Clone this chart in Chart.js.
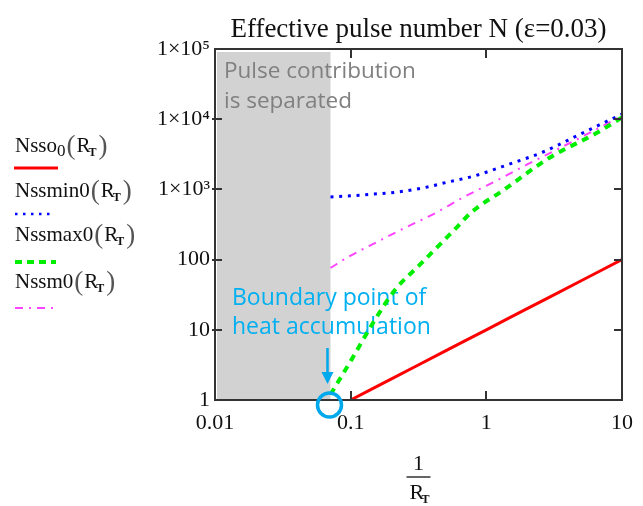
<!DOCTYPE html>
<html>
<head>
<meta charset="utf-8">
<script src="https://cdn.jsdelivr.net/npm/chart.js@4"></script>
<style>
  body { margin: 0; background: #fff; }
  #wrap { width: 643px; height: 506px; position: relative; }
</style>
</head>
<body>
<div id="wrap"><canvas id="pulseChart"></canvas></div>
<script>
// axis ticks
const xTicks = [0.01, 0.1, 1, 10];
const xTickLabels = ['0.01', '0.1', '1', '10'];
const yTicks = [1, 10, 100, 1000, 10000, 100000];
const yTickLabels = ['1', '10', '100', '1×10³', '1×10⁴', '1×10⁵'];

// 1/R_T values and N
const xSso = [0.1, 0.15, 0.2, 0.3, 0.5, 0.7, 1, 1.5, 2, 3, 5, 7, 10];
const nsso0 = [1, 1.5, 2, 3, 5, 7, 10, 15, 20, 30, 50, 70, 100];

const xMin = [0.071, 0.1, 0.15, 0.222, 0.35, 0.5, 0.81, 1.48, 2.62, 4.79, 7.28, 10];
const nssmin0 = [780, 810, 860, 918, 1060, 1250, 1550, 2290, 3410, 5960, 8830, 11800];

const xMax = [0.071, 0.101, 0.146, 0.212, 0.311, 0.45, 0.608, 0.78, 1.34, 2.9, 6.7, 10];
const nssmax0 = [1.2, 3.7, 12.5, 36.9, 78.5, 161, 291, 476, 980, 2800, 6570, 10600];

const xM = [0.071, 0.096, 0.151, 0.25, 0.435, 0.662, 1.13, 1.97, 3.26, 5.38, 10];
const nssm0 = [76, 109, 172, 282, 476, 754, 1270, 2230, 3640, 5960, 11200];

// shaded region where pulse contribution is separated
const separatedFrom = 0.01;
const separatedTo = 0.071;

function pts(xs, ys) {
    return xs.map((x, i) => ({ x: x, y: ys[i] }));
}

const serif = '"Liberation Serif", "Times New Roman", serif';
const sans = '"Open Sans", "Noto Sans", sans-serif';

// Mathcad style function label, e.g. Nsso0(RT)
function drawFnLabel(ctx, x, y, name, nameSub) {
    ctx.fillStyle = '#111';
    ctx.textBaseline = 'alphabetic';
    ctx.textAlign = 'left';
    ctx.font = '21px ' + serif;
    ctx.fillText(name, x, y);
    x += ctx.measureText(name).width;
    if (nameSub) {
        ctx.font = '17px ' + serif;
        ctx.fillText(nameSub, x, y + 4);
        x += ctx.measureText(nameSub).width;
    }
    ctx.font = '27px ' + serif;
    ctx.fillStyle = '#555';
    ctx.fillText('(', x + 1, y + 2);
    x += ctx.measureText('(').width + 2;
    ctx.fillStyle = '#111';
    ctx.font = '21px ' + serif;
    ctx.fillText('R', x, y);
    x += ctx.measureText('R').width - 2;
    ctx.font = 'bold 12px ' + serif;
    ctx.fillText('T', x, y + 4);
    x += ctx.measureText('T').width + 2;
    ctx.font = '27px ' + serif;
    ctx.fillStyle = '#555';
    ctx.fillText(')', x, y + 2);
}

function legendLine(ctx, x1, x2, y, color, width, dash) {
    ctx.save();
    ctx.strokeStyle = color;
    ctx.lineWidth = width;
    ctx.setLineDash(dash);
    ctx.beginPath();
    ctx.moveTo(x1, y);
    ctx.lineTo(x2, y);
    ctx.stroke();
    ctx.restore();
}

const decorPlugin = {
    id: 'decor',
    beforeDatasetsDraw(chart) {
        const ctx = chart.ctx;
        const area = chart.chartArea;
        const xs = chart.scales.x;
        // grey band
        const gx1 = xs.getPixelForValue(separatedFrom) + 2;
        const gx2 = xs.getPixelForValue(separatedTo);
        ctx.save();
        ctx.fillStyle = '#d2d2d2';
        ctx.fillRect(gx1, area.top + 3, gx2 - gx1, area.bottom - area.top - 3);

        ctx.font = '22.5px ' + sans;
        ctx.fillStyle = '#808080';
        ctx.textAlign = 'left';
        ctx.textBaseline = 'alphabetic';
        ctx.fillText('Pulse contribution', gx1 + 7, 78);
        ctx.fillText('is separated', gx1 + 7, 108);

        ctx.font = '23px ' + sans;
        ctx.fillStyle = '#00b0f0';
        ctx.fillText('Boundary point of', gx1 + 15, 305);
        ctx.fillText('heat accumulation', gx1 + 15, 334);
        ctx.restore();
    },
    afterDraw(chart) {
        const ctx = chart.ctx;
        const area = chart.chartArea;
        const xs = chart.scales.x;
        const ys = chart.scales.y;
        ctx.save();

        // frame
        ctx.strokeStyle = '#333';
        ctx.lineWidth = 2;
        ctx.strokeRect(area.left, area.top, area.right - area.left, area.bottom - area.top);

        // inward ticks
        ctx.beginPath();
        xTicks.slice(1, -1).forEach(v => {
            const px = Math.round(xs.getPixelForValue(v));
            ctx.moveTo(px, area.bottom);
            ctx.lineTo(px, area.bottom - 9);
            ctx.moveTo(px, area.top);
            ctx.lineTo(px, area.top + 9);
        });
        yTicks.slice(1, -1).forEach(v => {
            const py = Math.round(ys.getPixelForValue(v));
            ctx.moveTo(area.left - 3, py);
            ctx.lineTo(area.left + 7, py);
            ctx.moveTo(area.right, py);
            ctx.lineTo(area.right - 8, py);
        });
        ctx.stroke();

        // title
        ctx.fillStyle = '#111';
        ctx.font = '27px ' + serif;
        ctx.textAlign = 'center';
        ctx.textBaseline = 'alphabetic';
        ctx.fillText('Effective pulse number N (ε=0.03)', (area.left + area.right) / 2, 37);

        // x axis title as a fraction 1 / R_T
        const cx = (area.left + area.right) / 2;
        ctx.font = '22px ' + serif;
        ctx.fillText('1', cx, 470);
        ctx.lineWidth = 1.5;
        ctx.beginPath();
        ctx.moveTo(cx - 12, 477);
        ctx.lineTo(cx + 12, 477);
        ctx.stroke();
        ctx.textAlign = 'left';
        ctx.fillText('R', cx - 9, 499);
        ctx.font = 'bold 12px ' + serif;
        ctx.fillText('T', cx + 3, 503);

        // legend
        drawFnLabel(ctx, 15, 152, 'Nsso', '0');
        legendLine(ctx, 14, 58, 168, '#ff0000', 3, []);
        drawFnLabel(ctx, 15, 197, 'Nssmin0', '');
        legendLine(ctx, 15, 54, 214, '#0000ff', 2.5, [2.5, 5.5]);
        drawFnLabel(ctx, 15, 241, 'Nssmax0', '');
        legendLine(ctx, 15, 56, 262, '#00ee00', 4, [7, 5]);
        drawFnLabel(ctx, 15, 288, 'Nssm0', '');
        legendLine(ctx, 15, 56, 308, '#ff44ff', 2, [8, 6, 2, 6]);

        // boundary marker: arrow and circle
        const bx = xs.getPixelForValue(separatedTo) - 3;
        const by = ys.getPixelForValue(1);
        ctx.strokeStyle = '#00a8ec';
        ctx.fillStyle = '#00a8ec';
        ctx.lineWidth = 2.5;
        ctx.beginPath();
        ctx.moveTo(bx, by - 52);
        ctx.lineTo(bx, by - 26);
        ctx.stroke();
        ctx.beginPath();
        ctx.moveTo(bx - 6, by - 28);
        ctx.lineTo(bx + 6, by - 28);
        ctx.lineTo(bx, by - 16);
        ctx.closePath();
        ctx.fill();
        ctx.lineWidth = 3.5;
        ctx.beginPath();
        ctx.arc(bx + 2, by + 5, 12, 0, Math.PI * 2);
        ctx.stroke();

        ctx.restore();
    }
};

const ctx = document.getElementById('pulseChart').getContext('2d');
const pulseChart = new Chart(ctx, {
    type: 'line',
    data: {
        datasets: [{
            label: 'Nsso0(RT)',
            data: pts(xSso, nsso0),
            borderColor: '#ff0000',
            borderWidth: 3,
            pointRadius: 0,
            tension: 0
        }, {
            label: 'Nssmin0(RT)',
            data: pts(xMin, nssmin0),
            borderColor: '#0000ff',
            borderWidth: 3,
            borderDash: [3, 5.7],
            pointRadius: 0,
            cubicInterpolationMode: 'monotone'
        }, {
            label: 'Nssmax0(RT)',
            data: pts(xMax, nssmax0),
            borderColor: '#00ee00',
            borderWidth: 4,
            borderDash: [7, 6],
            pointRadius: 0,
            cubicInterpolationMode: 'monotone'
        }, {
            label: 'Nssm0(RT)',
            data: pts(xM, nssm0),
            borderColor: '#ff44ff',
            borderWidth: 2,
            borderDash: [8, 6, 2, 6],
            pointRadius: 0,
            cubicInterpolationMode: 'monotone'
        }]
    },
    options: {
        responsive: true,
        maintainAspectRatio: false,
        animation: false,
        layout: {
            padding: { left: 155, top: 49, right: 16, bottom: 76 }
        },
        plugins: {
            legend: { display: false },
            tooltip: { enabled: false }
        },
        scales: {
            x: {
                type: 'logarithmic',
                min: 0.01,
                max: 10,
                afterFit: scale => { scale.height = 30; },
                afterBuildTicks: scale => { scale.ticks = xTicks.map(v => ({ value: v })); },
                grid: { drawOnChartArea: false, drawTicks: false },
                border: { display: false },
                ticks: {
                    autoSkip: false,
                    maxRotation: 0,
                    padding: 10,
                    color: '#111',
                    font: { family: serif, size: 22 },
                    callback: (v) => xTickLabels[xTicks.indexOf(v)]
                }
            },
            y: {
                type: 'logarithmic',
                min: 1,
                max: 100000,
                afterFit: scale => { scale.width = 60; },
                afterBuildTicks: scale => { scale.ticks = yTicks.map(v => ({ value: v })); },
                grid: { drawOnChartArea: false, drawTicks: false },
                border: { display: false },
                ticks: {
                    autoSkip: false,
                    padding: 5,
                    color: '#111',
                    font: { family: serif, size: 22 },
                    callback: (v) => yTickLabels[yTicks.indexOf(v)]
                }
            }
        }
    },
    plugins: [decorPlugin]
});
</script>
</body>
</html>
